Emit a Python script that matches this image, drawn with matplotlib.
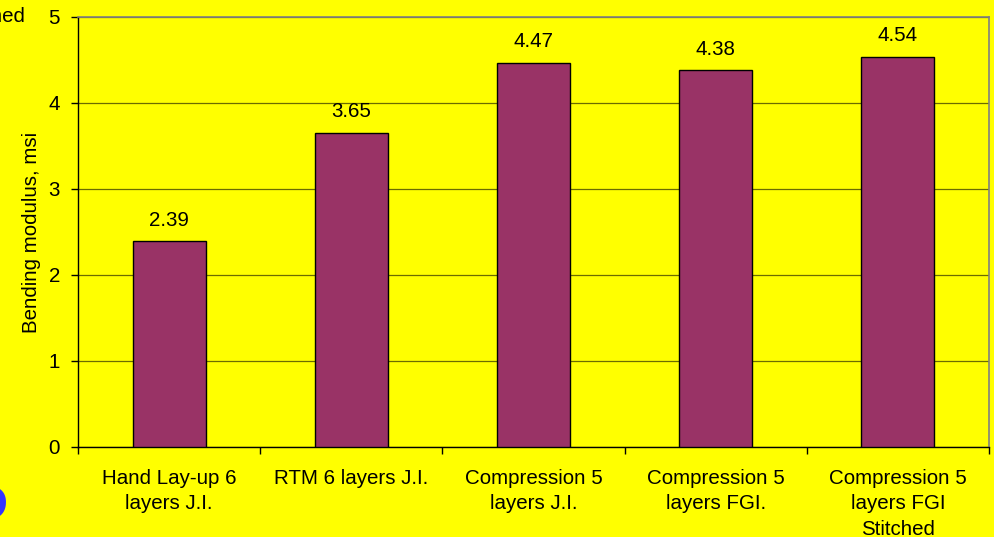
import matplotlib
matplotlib.use("Agg")
import matplotlib.pyplot as plt
from matplotlib.ticker import MultipleLocator, FixedLocator, NullFormatter

categories = [
    "Hand Lay-up 6\nlayers J.I.",
    "RTM 6 layers J.I.",
    "Compression 5\nlayers J.I.",
    "Compression 5\nlayers FGI.",
    "Compression 5\nlayers FGI\nStitched",
]
modulus = [2.39, 3.65, 4.47, 4.38, 4.54]
value_labels = ["2.39", "3.65", "4.47", "4.38", "4.54"]

plt.rcParams["font.family"] = ["Liberation Sans", "DejaVu Sans"]
FS = 14.8

W, H = 994, 537
fig = plt.figure(figsize=(W / 100, H / 100), dpi=100, facecolor="#FFFF00")
ax = fig.add_axes([78 / W, 1 - 447 / H, (989 - 78) / W, (447 - 17) / H])
ax.set_facecolor("#FFFF00")

x = list(range(len(categories)))
ax.bar(x, modulus, width=0.4, color="#993366", edgecolor="black", linewidth=1.0, zorder=3)

for xi, v, lab in zip(x, modulus, value_labels):
    ax.annotate(lab, (xi, v), xytext=(0, 8.5), textcoords="offset points",
                ha="center", va="bottom", fontsize=FS)

ax.set_xlim(-0.5, len(categories) - 0.5)
ax.set_ylim(0, 5)
ax.yaxis.set_major_locator(MultipleLocator(1))
ax.yaxis.grid(True, color="#6b6b00", linewidth=0.9, zorder=0)
ax.set_axisbelow(True)

# category labels sit between the boundary ticks
ax.xaxis.set_major_locator(FixedLocator([i - 0.5 for i in range(len(categories) + 1)]))
ax.xaxis.set_major_formatter(NullFormatter())
ax.xaxis.set_minor_locator(FixedLocator(x))
ax.set_xticklabels(categories, minor=True, fontsize=FS, linespacing=1.44, va="top")
ax.tick_params(axis="x", which="minor", length=0, pad=15.5)
ax.tick_params(axis="x", which="major", length=5, width=1, direction="out", color="black")
ax.tick_params(axis="y", length=5, width=1, direction="out", labelsize=FS, pad=8)

for side in ("top", "right"):
    ax.spines[side].set_color("#808080")
    ax.spines[side].set_linewidth(1.2)
for side in ("left", "bottom"):
    ax.spines[side].set_color("black")
    ax.spines[side].set_linewidth(1.0)

ax.set_ylabel("Bending modulus, msi", fontsize=FS, labelpad=5)

# pieces of neighbouring slide text at the left edge
fig.text(25 / W, 1 - 17 / H, "Stitched", ha="right", va="center", fontsize=FS)
fig.text(8 / W, 1 - 519 / H, "D", ha="right", va="baseline", fontsize=35,
         fontweight="bold", color="#3333FF")

fig.savefig("out.png", dpi=100, facecolor=fig.get_facecolor())
